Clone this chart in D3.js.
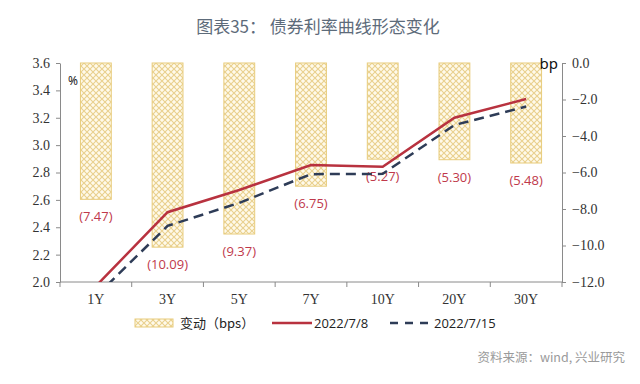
<!DOCTYPE html>
<html>
<head>
<meta charset="utf-8">
<script src="https://cdn.jsdelivr.net/npm/d3@7"></script>
<style>
  body { margin: 0; background: #fff; }
  svg { display: block; }
</style>
</head>
<body>
<svg id="figure" width="640" height="384"></svg>
<script>
// tenors on the x axis
const tenors = ["1Y", "3Y", "5Y", "7Y", "10Y", "20Y", "30Y"];
// yield curve 2022/7/8 (%)
const curveA = [1.97, 2.51, 2.672, 2.855, 2.842, 3.20, 3.337];
// yield curve 2022/7/15 (%)
const curveB = [1.895, 2.41, 2.578, 2.788, 2.79, 3.147, 3.282];
// change (bps), drawn downward from 0 on the right axis
const changes = [-7.47, -10.09, -9.37, -6.75, -5.27, -5.30, -5.48];
const changeLabels = ["(7.47)", "(10.09)", "(9.37)", "(6.75)", "(5.27)", "(5.30)", "(5.48)"];
const leftTicks = [2.0, 2.2, 2.4, 2.6, 2.8, 3.0, 3.2, 3.4, 3.6];
const rightTicks = [0, -2, -4, -6, -8, -10, -12];

const margin = {top: 63, right: 78, bottom: 102, left: 60};
const width = 640 - margin.left - margin.right;
const height = 384 - margin.top - margin.bottom;

const svg = d3.select("#figure");

// hatch pattern for the change bars
const defs = svg.append("defs");
const pat = defs.append("pattern")
    .attr("id", "hatch")
    .attr("patternUnits", "userSpaceOnUse")
    .attr("width", 6).attr("height", 6);
pat.append("rect").attr("width", 6).attr("height", 6).attr("fill", "#fffaea");
pat.append("path")
    .attr("d", "M0,0 L6,6 M6,0 L0,6")
    .attr("stroke", "#e9d08e").attr("stroke-width", 1.1);

defs.append("clipPath").attr("id", "plotClip")
    .append("rect").attr("width", width).attr("height", height);

// title
svg.append("text")
    .attr("x", 318).attr("y", 33)
    .attr("text-anchor", "middle")
    .attr("font-family", "'Noto Sans CJK SC', sans-serif")
    .attr("font-size", 17)
    .attr("fill", "#5d6b7a")
    .text("图表35：  债券利率曲线形态变化");

const g = svg.append("g")
    .attr("transform", "translate(" + margin.left + "," + margin.top + ")");

const x = d3.scaleBand().domain(tenors).range([0, width]);
const xBar = d3.scaleBand().domain(tenors).range([0, width]).paddingInner(0.57).paddingOuter(0.285);
const yL = d3.scaleLinear().domain([2.0, 3.6]).range([height, 0]);
const yR = d3.scaleLinear().domain([-12, 0]).range([height, 0]);

// bars
g.selectAll("rect.bar")
    .data(changes)
    .enter().append("rect")
    .attr("class", "bar")
    .attr("x", (d, i) => xBar(tenors[i]))
    .attr("y", yR(0))
    .attr("width", xBar.bandwidth())
    .attr("height", d => yR(d) - yR(0))
    .attr("fill", "url(#hatch)")
    .attr("stroke", "#e8cc7c")
    .attr("stroke-width", 1);

// bar labels
g.selectAll("text.blabel")
    .data(changes)
    .enter().append("text")
    .attr("class", "blabel")
    .attr("x", (d, i) => x(tenors[i]) + x.bandwidth() / 2)
    .attr("y", d => yR(d) + 22)
    .attr("text-anchor", "middle")
    .attr("font-family", "'Open Sans', 'Noto Sans', sans-serif")
    .attr("font-size", 13)
    .attr("fill", "#c0394b")
    .text((d, i) => changeLabels[i]);

// axes
const axisColor = "#8a8a8a";
const serif = "'Liberation Serif', 'DejaVu Serif', serif";

const xAxis = g.append("g")
    .attr("transform", "translate(0," + height + ")");
xAxis.append("line").attr("x1", 0).attr("x2", width).attr("stroke", axisColor);
xAxis.selectAll("line.tick")
    .data(d3.range(tenors.length + 1))
    .enter().append("line")
    .attr("x1", i => i * x.step()).attr("x2", i => i * x.step())
    .attr("y1", 0).attr("y2", 5)
    .attr("stroke", axisColor);
xAxis.selectAll("text")
    .data(tenors)
    .enter().append("text")
    .attr("x", d => x(d) + x.bandwidth() / 2)
    .attr("y", 22)
    .attr("text-anchor", "middle")
    .attr("font-family", serif)
    .attr("font-size", 14)
    .attr("fill", "#333")
    .text(d => d);

const leftAxis = g.append("g")
    .call(d3.axisLeft(yL).tickValues(leftTicks).tickFormat(d3.format(".1f")).tickSize(4).tickSizeOuter(0));
const rightAxis = g.append("g")
    .attr("transform", "translate(" + width + ",0)")
    .call(d3.axisRight(yR).tickValues(rightTicks).tickFormat(d3.format(".1f")).tickSize(4).tickSizeOuter(0));
[leftAxis, rightAxis].forEach(a => {
    a.select(".domain").attr("stroke", axisColor);
    a.selectAll(".tick line").attr("stroke", axisColor);
    a.selectAll(".tick text")
        .attr("font-family", serif)
        .attr("font-size", 14)
        .attr("fill", "#333");
});
leftAxis.selectAll(".tick text").attr("x", -10);
rightAxis.selectAll(".tick text").attr("x", 10);

// unit labels
g.append("text")
    .attr("x", 8).attr("y", 22)
    .attr("font-family", "'Noto Sans', sans-serif")
    .attr("font-size", 12)
    .attr("fill", "#222")
    .text("%");
g.append("text")
    .attr("x", width - 4).attr("y", 6)
    .attr("text-anchor", "end")
    .attr("font-family", "'Noto Sans', sans-serif")
    .attr("font-size", 15)
    .attr("fill", "#111")
    .text("bp");

// lines
const line = d3.line()
    .x((d, i) => x(tenors[i]) + x.bandwidth() / 2)
    .y(d => yL(d));

const lines = g.append("g").attr("clip-path", "url(#plotClip)");
lines.append("path")
    .datum(curveB)
    .attr("d", line)
    .attr("fill", "none")
    .attr("stroke", "#2e3c57")
    .attr("stroke-width", 2.5)
    .attr("stroke-dasharray", "10,6");
lines.append("path")
    .datum(curveA)
    .attr("d", line)
    .attr("fill", "none")
    .attr("stroke", "#b8323f")
    .attr("stroke-width", 2.5);

// legend
const legend = svg.append("g").attr("transform", "translate(0,323)");
legend.append("rect")
    .attr("x", 135).attr("y", -4).attr("width", 38).attr("height", 8)
    .attr("fill", "url(#hatch)").attr("stroke", "#e8cc7c");
legend.append("text")
    .attr("x", 180).attr("y", 5)
    .attr("font-family", "'Noto Sans CJK SC', sans-serif")
    .attr("font-size", 13)
    .attr("fill", "#222")
    .text("变动（bps）");
legend.append("line")
    .attr("x1", 272).attr("x2", 312).attr("y1", 0).attr("y2", 0)
    .attr("stroke", "#b8323f").attr("stroke-width", 2.5);
legend.append("text")
    .attr("x", 314).attr("y", 5)
    .attr("font-family", "'Open Sans', 'Noto Sans', sans-serif")
    .attr("font-size", 13)
    .attr("fill", "#222")
    .text("2022/7/8");
legend.append("line")
    .attr("x1", 390).attr("x2", 432).attr("y1", 0).attr("y2", 0)
    .attr("stroke", "#2e3c57").attr("stroke-width", 2.5)
    .attr("stroke-dasharray", "8,7");
legend.append("text")
    .attr("x", 434).attr("y", 5)
    .attr("font-family", "'Open Sans', 'Noto Sans', sans-serif")
    .attr("font-size", 13)
    .attr("fill", "#222")
    .text("2022/7/15");

// source note
svg.append("text")
    .attr("x", 625).attr("y", 362)
    .attr("text-anchor", "end")
    .attr("font-family", "'Noto Sans CJK SC', sans-serif")
    .attr("font-size", 12.5)
    .attr("fill", "#9a9a9a")
    .text("资料来源：wind, 兴业研究");
</script>
</body>
</html>
